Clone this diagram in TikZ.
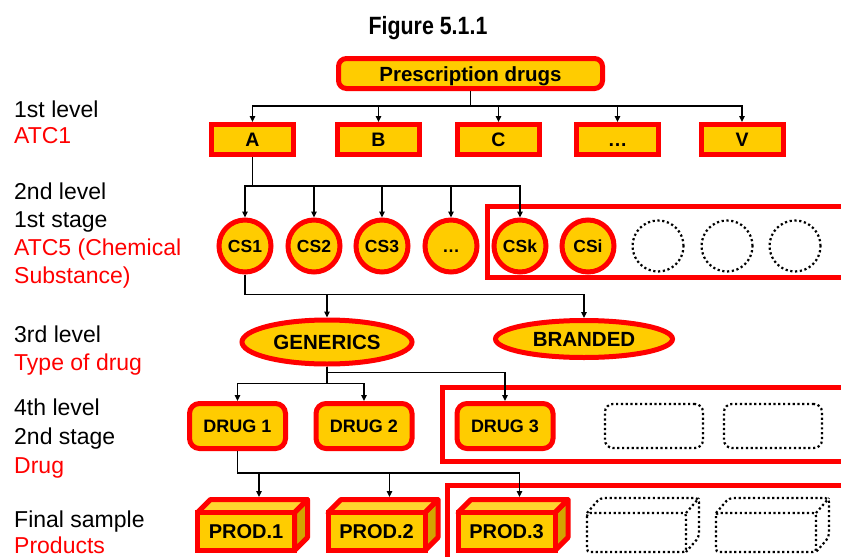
\documentclass[tikz,border=0pt]{standalone}
\usepackage{fontspec}
\setmainfont{Liberation Sans}
\usetikzlibrary{arrows.meta,shapes.geometric}
\definecolor{yel}{HTML}{FFCC00}
\definecolor{rd}{HTML}{FF0000}
\definecolor{yeltop}{HTML}{FFD52E}
\definecolor{yelside}{HTML}{D2A500}
\newcommand{\fs}[1]{\fontsize{#1}{#1}\selectfont}
\newcommand{\prodcube}[4]{%
  \filldraw[fill=yelside,draw=rd,line width=5pt,line join=round] (#2+48.5,#3-19) -- ++(13,-13) -- ++(0,38) -- ++(-13,13) -- cycle;
  \filldraw[fill=yeltop,draw=rd,line width=5pt,line join=round] (#2-48.5,#3-19) -- ++(13,-13) -- ++(97,0) -- ++(-13,13) -- cycle;
  \node[prod] (#1) at (#2,#3) {#4};
  \coordinate (#1t) at (#2+13,#3-34.5);
}
\newcommand{\emptycube}[3]{%
  \draw[dotline,rounded corners=3pt] (#1-#3/2,#2-19.5) rectangle (#1+#3/2,#2+19.5);
  \draw[dotline,rounded corners=4pt] (#1-#3/2,#2-19.5) -- ++(13,-15) -- ++(#3,0) -- ++(0,39) -- ++(-13,15);
  \draw[dotline] (#1+#3/2,#2-19.5) -- ++(13,-15);
}
\begin{document}
\begin{tikzpicture}[x=1pt,y=-1pt,
  box/.style={draw=rd, line width=5pt, fill=yel, inner sep=0pt, text=black},
  atc/.style={box, rectangle, minimum width=82pt, minimum height=30pt, font=\fs{19.5}\bfseries, text height=14pt, text depth=0pt},
  topbox/.style={box, rectangle, rounded corners=8pt, minimum width=264pt, minimum height=30pt, font=\fs{20.5}\bfseries, text height=16pt, text depth=0pt},
  cs/.style={box, circle, minimum size=52pt, font=\fs{17.5}\bfseries, text height=12.6pt, text depth=0pt},
  dotline/.style={draw=black, line width=2.2pt, dash pattern=on 2.2pt off 2.6pt},
  dotcircle/.style={dotline, circle, minimum size=51pt, inner sep=0pt},
  typ/.style={box, ellipse, font=\fs{20.5}\bfseries},
  drug/.style={box, rectangle, rounded corners=10pt, minimum width=96pt, minimum height=45pt, font=\fs{18}\bfseries},
  dotrect/.style={dotline, rectangle, rounded corners=8pt, minimum width=98pt, minimum height=44pt, inner sep=0pt},
  prod/.style={box, rectangle, minimum width=97pt, minimum height=38pt, font=\fs{20}\bfseries},
  frame/.style={draw=rd, line width=5pt},
  conn/.style={draw=black, line width=1.3pt},
  arr/.style={conn, -{Triangle[length=6pt,width=5.5pt]}},
  lab/.style={anchor=base west, inner sep=0pt, font=\fs{23}},
  labr/.style={lab, text=rd},
]
\useasboundingbox (0,0) rectangle (841,557);

% title
\node[font=\fs{25}\bfseries, anchor=base, inner sep=0pt] (title) at (428,34) {\scalebox{0.855}[1]{Figure 5.1.1}};

% left labels
\node[lab]  (l1a) at (14,117) {1st level};
\node[labr] (l1b) at (14,143) {ATC1};
\node[lab]  (l2a) at (14,199) {2nd level};
\node[lab]  (l2b) at (14,227) {1st stage};
\node[labr] (l2c) at (14,255) {ATC5 (Chemical};
\node[labr] (l2d) at (14,283) {Substance)};
\node[lab]  (l3a) at (14,342) {3rd level};
\node[labr] (l3b) at (14,370) {Type of drug};
\node[lab]  (l4a) at (14,415) {4th level};
\node[lab]  (l4b) at (14,444) {2nd stage};
\node[labr] (l4c) at (14,473) {Drug};
\node[lab]  (l5a) at (14,527) {Final sample};
\node[labr] (l5b) at (14,553) {Products};

% frames
\draw[frame] (487.5,206.5) rectangle (850,277.5);
\draw[frame] (442.5,387.5) rectangle (850,461.5);
\draw[frame] (447.5,485.5) rectangle (850,559.5);

% level 0 and 1
\node[topbox] (top) at (470.5,73.5) {Prescription drugs};
\node[atc] (A) at (252.5,139.5) {A};
\node[atc] (B) at (378.5,139.5) {B};
\node[atc] (C) at (498.5,139.5) {C};
\node[atc] (Dots) at (617.5,139.5) {…};
\node[atc] (V) at (742,139.5) {V};

% level 2
\node[cs] (cs1) at (245,246) {CS1};
\node[cs] (cs2) at (314,246) {CS2};
\node[cs] (cs3) at (382,246) {CS3};
\node[cs] (csd) at (451,246) {…};
\node[cs] (csk) at (520,246) {CSk};
\node[cs] (csi) at (588,246) {CSi};
\node[dotcircle] (e1) at (658,246) {};
\node[dotcircle] (e2) at (727,246) {};
\node[dotcircle] (e3) at (795,246) {};

% level 3
\node[typ, minimum width=170pt, minimum height=44pt] (gen) at (327,342) {GENERICS};
\node[typ, minimum width=177pt, minimum height=37pt] (br) at (584,339) {BRANDED};

% level 4
\node[drug] (d1) at (237.5,426) {DRUG 1};
\node[drug] (d2) at (364,426) {DRUG 2};
\node[drug] (d3) at (505,426) {DRUG 3};
\node[dotrect] (r1) at (654,426) {};
\node[dotrect] (r2) at (773,426) {};

% final
\prodcube{p1}{246}{531.5}{PROD.1}
\prodcube{p2}{376.5}{531.5}{PROD.2}
\prodcube{p3}{506.5}{531.5}{PROD.3}
\emptycube{636.5}{532.5}{99}
\emptycube{766}{532.5}{100}

% connectors
\foreach \n in {A,B,C,Dots,V}
  \draw[arr] (top.south) -- ++(0,15) -| (\n.north);
\foreach \n in {cs1,cs2,cs3,csd,csk}
  \draw[arr] (A.south) -- ++(0,29) -| (\n.north);
\foreach \n in {gen,br}
  \draw[arr] (cs1.south) -- ++(0,20) -| (\n.north);
\draw[arr] (gen.south) -- ++(0,6) -| (d3.north);
\foreach \n in {d1,d2}
  \draw[arr] (gen.south) -- ++(0,17) -| (\n.north);
\foreach \n in {p1,p2,p3}
  \draw[arr] (d1.south) -- ++(0,22) -| (\n t);
\end{tikzpicture}
\end{document}
